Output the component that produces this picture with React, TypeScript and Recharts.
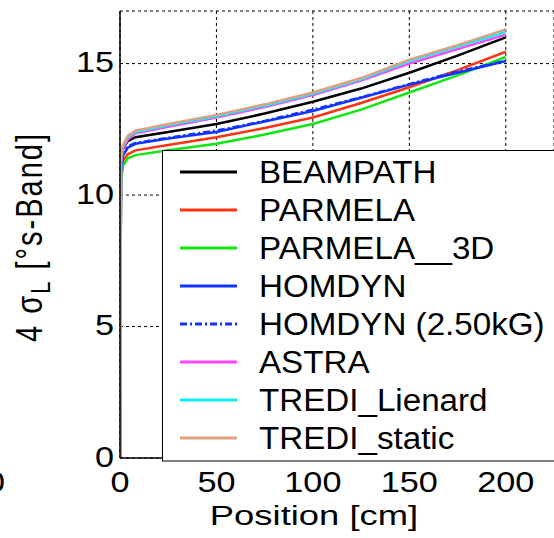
import React from 'react';
import { LineChart, Line, XAxis, YAxis, CartesianGrid } from 'recharts';

const positions = [0, 0.5, 1.5, 4, 8, 25, 50, 75, 100, 125, 150, 175, 200];
const beampath = [0, 11.1, 11.75, 12.05, 12.2, 12.4, 12.7, 13.1, 13.55, 14.05, 14.65, 15.3, 16.0];
const parmela = [0, 10.8, 11.3, 11.55, 11.7, 11.9, 12.2, 12.55, 12.95, 13.5, 14.1, 14.75, 15.45];
const parmela3d = [0, 10.5, 11.1, 11.4, 11.52, 11.7, 11.95, 12.3, 12.7, 13.25, 13.9, 14.55, 15.25];
const homdyn = [0, 10.9, 11.5, 11.8, 11.95, 12.15, 12.4, 12.8, 13.2, 13.7, 14.2, 14.65, 15.1];
const homdyn25 = [0, 10.95, 11.55, 11.85, 11.98, 12.18, 12.45, 12.82, 13.25, 13.72, 14.22, 14.7, 15.1];
const astra = [0, 11.2, 11.75, 12.1, 12.35, 12.6, 12.95, 13.35, 13.8, 14.35, 15.0, 15.55, 16.1];
const trediLienard = [0, 11.3, 11.85, 12.2, 12.4, 12.65, 13.0, 13.4, 13.85, 14.4, 15.1, 15.65, 16.2];
const trediStatic = [0, 11.4, 11.9, 12.25, 12.45, 12.7, 13.05, 13.45, 13.9, 14.45, 15.15, 15.7, 16.3];

const xTicks = [0, 50, 100, 150, 200];
const yTicks = [0, 5, 10, 15];

const series = [
  { key: 'BEAMPATH', values: beampath, color: '#000000', dash: undefined },
  { key: 'PARMELA', values: parmela, color: '#ff3311', dash: undefined },
  { key: 'PARMELA__3D', values: parmela3d, color: '#11e611', dash: undefined },
  { key: 'HOMDYN', values: homdyn, color: '#1133ff', dash: undefined },
  { key: 'HOMDYN (2.50kG)', values: homdyn25, color: '#1133ff', dash: '7 3 2 3' },
  { key: 'ASTRA', values: astra, color: '#ff44ff', dash: undefined },
  { key: 'TREDI_Lienard', values: trediLienard, color: '#11eeee', dash: undefined },
  { key: 'TREDI_static', values: trediStatic, color: '#e0a080', dash: undefined },
];

const data = positions.map((x, i) => {
  const row: Record<string, number> = { x };
  series.forEach((s) => {
    row[s.key] = s.values[i];
  });
  return row;
});

const FONT = '"Liberation Sans", Arial, Helvetica, sans-serif';

const XTick = (props: any) => {
  const { x, y, payload } = props;
  return (
    <text
      transform={`translate(${x},${y}) scale(1.18,1)`}
      textAnchor="middle"
      dy="0.71em"
      fontSize={29}
      fontFamily={FONT}
      fill="#000"
    >
      {payload.value}
    </text>
  );
};

const YTick = (props: any) => {
  const { x, y, payload } = props;
  return (
    <text
      transform={`translate(${x},${y}) scale(1.18,1)`}
      textAnchor="end"
      dy="0.3em"
      fontSize={29}
      fontFamily={FONT}
      fill="#000"
    >
      {payload.value}
    </text>
  );
};

export default function App() {
  return (
    <div style={{ position: 'absolute', left: 0, top: 0, width: 554, height: 538, overflow: 'hidden', background: '#fff' }}>
      <LineChart width={554} height={538} data={data} margin={{ top: 11, right: 0, bottom: 0, left: 0 }}>
        <CartesianGrid stroke="#000" strokeDasharray="3 3" strokeWidth={1} />
        <XAxis
          dataKey="x"
          type="number"
          domain={[0, 225]}
          ticks={xTicks}
          allowDataOverflow
          height={80}
          axisLine={{ stroke: '#000', strokeWidth: 1.5 }}
          tickLine={false}
          tickSize={6}
          tickMargin={7}
          tick={<XTick />}
        />
        <YAxis
          type="number"
          domain={[0, 17]}
          ticks={yTicks}
          allowDataOverflow
          width={120}
          axisLine={{ stroke: '#000', strokeWidth: 1.5 }}
          tickLine={false}
          tickSize={6}
          tickMargin={0}
          tick={<YTick />}
        />
        {series.map((s) => (
          <Line
            key={s.key}
            dataKey={s.key}
            type="linear"
            stroke={s.color}
            strokeWidth={2.5}
            strokeDasharray={s.dash}
            dot={false}
            isAnimationActive={false}
          />
        ))}
      </LineChart>
      <svg
        width={554}
        height={538}
        style={{ position: 'absolute', left: 0, top: 0, pointerEvents: 'none' }}
      >
        <text
          transform="translate(42,237) rotate(-90) scale(1,1.25)"
          textAnchor="middle"
          fontSize={29}
          fontFamily={FONT}
          letterSpacing={2}
          fill="#000"
        >
          <tspan>4 σ</tspan>
          <tspan fontSize={22} dy={6}>L</tspan>
          <tspan dy={-6}> [°s-Band]</tspan>
        </text>
        <text
          transform="translate(314,525) scale(1.3,1)"
          textAnchor="middle"
          fontSize={28}
          fontFamily={FONT}
          fill="#000"
        >
          Position [cm]
        </text>
        <text
          transform="translate(5,471) scale(1.18,1)"
          textAnchor="end"
          dy="0.71em"
          fontSize={29}
          fontFamily={FONT}
          fill="#000"
        >
          0
        </text>
        <rect x={162.5} y={150.5} width={500} height={310.5} fill="#fff" stroke="#000" strokeWidth={1} />
        {series.map((s, i) => {
          const cy = 172 + i * 38;
          return (
            <g key={s.key}>
              <line x1={180} x2={237} y1={cy} y2={cy} stroke={s.color} strokeWidth={3} strokeDasharray={s.dash} />
              <text
                transform={`translate(259,${cy + 11}) scale(1.07,1)`}
                fontSize={31}
                fontFamily={FONT}
                fill="#000"
              >
                {s.key}
              </text>
            </g>
          );
        })}
      </svg>
    </div>
  );
}
